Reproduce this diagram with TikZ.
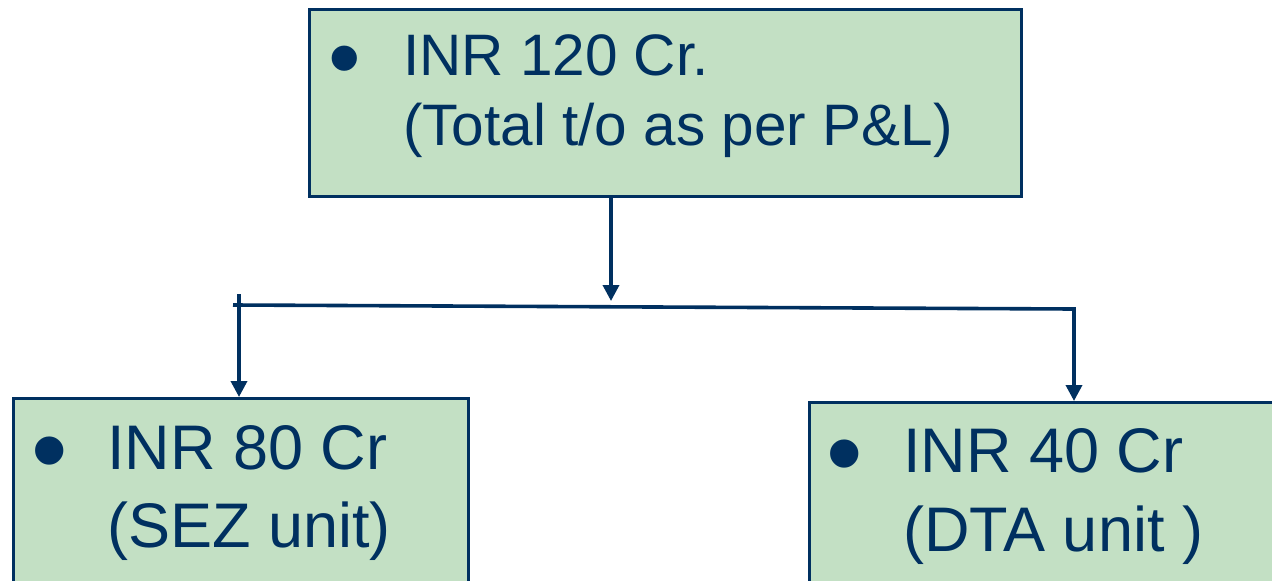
\documentclass[tikz,border=0pt]{standalone}
\usepackage{fontspec}
\setmainfont{Liberation Sans}
\usetikzlibrary{arrows.meta}
\definecolor{navy}{RGB}{0,48,96}
\definecolor{boxgreen}{RGB}{195,224,196}
\begin{document}
\begin{tikzpicture}[x=1pt,y=-1pt,
  box/.style={draw=navy, fill=boxgreen, line width=3pt, rectangle, inner sep=0pt, anchor=north west},
  conn/.style={draw=navy, line width=3.6pt},
  arr/.style={conn, -{Triangle[length=16pt,width=16pt]}},
  toptxt/.style={text=navy, anchor=base west, inner sep=0pt, font=\fontsize{58.5}{70}\selectfont},
  bottxt/.style={text=navy, anchor=base west, inner sep=0pt, font=\fontsize{63}{78}\selectfont},
  topbul/.style={text=navy, anchor=base, inner sep=0pt, font=\fontsize{93}{93}\selectfont},
  botbul/.style={text=navy, anchor=base, inner sep=0pt, font=\fontsize{104}{104}\selectfont}]
\useasboundingbox (0,0) rectangle (1272,581);
\clip (0,0) rectangle (1272,581);
% boxes
\node[box, minimum width=712pt, minimum height=187pt] (top) at (308,8) {};
\node[box, minimum width=455pt, minimum height=300pt] (left) at (12,397) {};
\node[box, minimum width=480pt, minimum height=300pt] (right) at (808,401) {};
% texts
\node[topbul] (tb) at (345,89.5) {•};
\node[toptxt] (t1) at (403,75) {INR 120 Cr.};
\node[toptxt] (t2) at (403,145) {(Total t/o as per P\&L)};
\node[botbul] (lb) at (49.5,485) {•};
\node[bottxt] (l1) at (107,469) {INR 80 Cr};
\node[bottxt] (l2) at (107,547) {(SEZ unit)};
\node[botbul] (rb) at (845,488) {•};
\node[bottxt] (r1) at (903,472) {INR 40 Cr};
\node[bottxt] (r2) at (903,551) {(DTA unit )};
% connectors
\coordinate (jt) at (611,301);
\coordinate (hl) at (233,305);
\coordinate (hc) at (1074,309);
\coordinate (lt) at (239,294);
\draw[arr] (jt |- top.south) -- (jt);
\draw[arr, line join=miter] (hl) -- (hc) -- (hc |- right.north);
\draw[arr] (lt) -- (lt |- left.north);
\end{tikzpicture}
\end{document}
